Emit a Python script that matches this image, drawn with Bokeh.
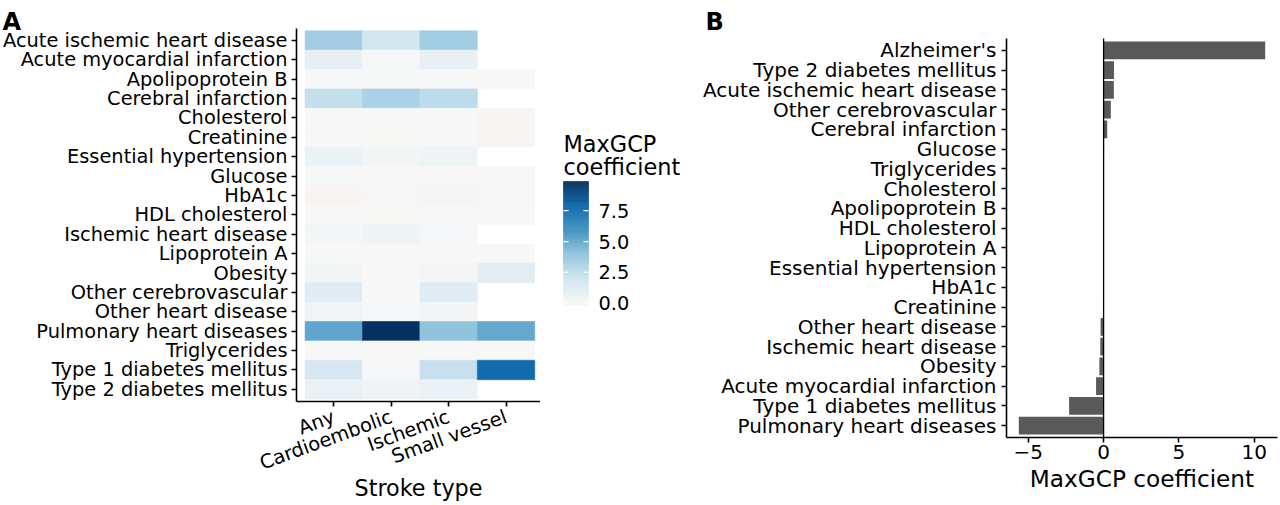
import numpy as np
from bokeh.plotting import figure
from bokeh.models import (Range1d, LinearColorMapper, FixedTicker, Label, LinearAxis,
                          ColumnDataSource, NumeralTickFormatter)
from bokeh.layouts import row
from bokeh.embed import file_html
from bokeh.resources import INLINE

# ---------------- data ----------------
outcomes = ["Acute ischemic heart disease", "Acute myocardial infarction", "Apolipoprotein B",
            "Cerebral infarction", "Cholesterol", "Creatinine", "Essential hypertension",
            "Glucose", "HbA1c", "HDL cholesterol", "Ischemic heart disease", "Lipoprotein A",
            "Obesity", "Other cerebrovascular", "Other heart disease", "Pulmonary heart diseases",
            "Triglycerides", "Type 1 diabetes mellitus", "Type 2 diabetes mellitus"]
stroke_types = ["Any", "Cardioembolic", "Ischemic", "Small vessel"]
coef_any = [3.45, 0.85, 0.05, 2.4, 0.02, 0.02, 0.6, 0.05, -0.19, 0.02, 0.2, 0.03, 0.25, 1.25,
            0.35, 5.2, 0.02, 1.7, 0.7]
coef_cardioembolic = [1.9, 0.15, 0.05, 3.2, 0.02, 0.0, 0.25, 0.02, -0.05, 0.0, 0.5, 0.02, 0.05,
                      0.0, 0.15, 9.87, 0.0, 0.1, 0.4]
coef_ischemic = [3.5, 0.8, 0.05, 2.6, 0.02, 0.02, 0.5, 0.03, -0.12, 0.02, 0.15, 0.02, 0.2, 1.2,
                 0.3, 4.0, 0.02, 2.27, 0.6]
coef_small_vessel = [None, None, 0.0, None, -0.08, -0.08, None, -0.05, -0.05, 0.02, None, -0.02,
                     1.1, None, None, 5.1, 0.02, 7.8, None]
legend_ticks = [0, 2.5, 5, 7.5]

bar_outcomes = ["Alzheimer's", "Type 2 diabetes mellitus", "Acute ischemic heart disease",
                "Other cerebrovascular", "Cerebral infarction", "Glucose", "Triglycerides",
                "Cholesterol", "Apolipoprotein B", "HDL cholesterol", "Lipoprotein A",
                "Essential hypertension", "HbA1c", "Creatinine", "Other heart disease",
                "Ischemic heart disease", "Obesity", "Acute myocardial infarction",
                "Type 1 diabetes mellitus", "Pulmonary heart diseases"]
bar_values = [10.73, 0.69, 0.68, 0.48, 0.24, 0.03, 0.02, 0.01, 0.01, 0.0, -0.01, -0.01, -0.02,
              -0.04, -0.2, -0.22, -0.28, -0.5, -2.29, -5.63]
bar_ticks = [-5, 0, 5, 10]

FONT = "DejaVu Sans"
H = 504  # canvas height of every figure (frames fill the canvas; axes are placed inside)

# ---------------- colour scale ----------------
cols = [coef_any, coef_cardioembolic, coef_ischemic, coef_small_vessel]
xs, ys, vs = [], [], []
nO = len(outcomes)
for j, col in enumerate(cols):
    for i, v in enumerate(col):
        if v is not None:
            xs.append(j + 1); ys.append(nO - i); vs.append(v)
lo, hi = min(vs), max(vs)
M = max(hi, -lo)
pos_stops = [(0.0, "#F7F7F7"), (0.2, "#D1E5F0"), (0.4, "#92C5DE"), (0.6, "#4393C3"),
             (0.8, "#0F69AB"), (1.0, "#053061")]
neg_stops = [(0.0, "#F7F7F7"), (0.2, "#FDDBC7"), (0.4, "#F4A582"), (0.6, "#D6604D"),
             (0.8, "#B2182B"), (1.0, "#67001F")]


def hex2rgb(h):
    return [int(h[i:i + 2], 16) for i in (1, 3, 5)]


def interp(stops, t):
    for (t0, c0), (t1, c1) in zip(stops[:-1], stops[1:]):
        if t <= t1:
            f = (t - t0) / (t1 - t0)
            a, b = hex2rgb(c0), hex2rgb(c1)
            return "#%02x%02x%02x" % tuple(int(round(a[k] + (b[k] - a[k]) * f)) for k in range(3))
    return stops[-1][1]


palette = [interp(pos_stops, v / M) if v >= 0 else interp(neg_stops, -v / M)
           for v in np.linspace(lo, hi, 256)]
mapper = LinearColorMapper(palette=palette, low=lo, high=hi)


def style_axis(ax, fs, title_fs="22.4px"):
    ax.axis_line_color = "black"
    ax.axis_line_width = 1.6
    ax.major_tick_line_color = "black"
    ax.major_tick_line_width = 1.6
    ax.major_tick_out = 5
    ax.major_tick_in = 0
    ax.minor_tick_line_color = None
    ax.major_label_text_font = FONT
    ax.major_label_text_font_size = fs
    ax.major_label_text_color = "black"
    ax.axis_label_text_font = FONT
    ax.axis_label_text_font_size = title_fs
    ax.axis_label_text_font_style = "normal"
    ax.axis_label_text_color = "black"


def vrange(n_lo, n_hi, top_px, bottom_px):
    # band [n_lo, n_hi] drawn between canvas rows top_px..bottom_px of a frame of height H
    ppu = (bottom_px - top_px) / (n_hi - n_lo)
    return Range1d(n_lo - (H - bottom_px) / ppu, n_hi + top_px / ppu)


def hrange(d_lo, d_hi, left_px, right_px, width):
    ppu = (right_px - left_px) / (d_hi - d_lo)
    return Range1d(d_lo - left_px / ppu, d_hi + (width - right_px) / ppu)


def new_fig(xr, yr, w):
    p = figure(x_range=xr, y_range=yr, width=w, height=H, min_border_left=0,
               min_border_right=0, min_border_top=0, min_border_bottom=0,
               x_axis_location=None, y_axis_location=None,
               toolbar_location=None, output_backend="svg")
    p.grid.visible = False
    p.outline_line_color = None
    return p


def tag(p, x, text):
    p.add_layout(Label(x=x, y=H - 21.7, x_units="screen", y_units="screen", text=text,
                       text_font=FONT, text_font_size="24px", text_font_style="bold",
                       text_baseline="alphabetic", text_color="black"))


# ---------------- panel A: heatmap ----------------
A_W = 540
ax_lo, ax_hi = 0.35, len(stroke_types) + 0.6
ay_lo, ay_hi = 0.4, nO + 0.6
pA = new_fig(hrange(ax_lo, ax_hi, 296, 540, A_W), vrange(ay_lo, ay_hi, 28.3, 400.5), A_W)
src = ColumnDataSource(dict(x=xs, y=ys, v=vs))
pA.rect(x="x", y="y", width=1, height=1, source=src,
        fill_color={"field": "v", "transform": mapper},
        line_color={"field": "v", "transform": mapper}, line_width=0.6)
ax_y = LinearAxis(ticker=FixedTicker(ticks=list(range(1, nO + 1))), bounds=(ay_lo, ay_hi),
                  fixed_location=ax_lo,
                  major_label_overrides={nO - i: o for i, o in enumerate(outcomes)})
style_axis(ax_y, "19.4px")
ax_y.major_label_standoff = 4
pA.add_layout(ax_y, "left")
ax_x = LinearAxis(ticker=FixedTicker(ticks=list(range(1, len(stroke_types) + 1))),
                  major_label_overrides={j + 1: s for j, s in enumerate(stroke_types)},
                  bounds=(ax_lo, ax_hi), fixed_location=ay_lo, axis_label="Stroke type")
style_axis(ax_x, "19.4px", "22.3px")
ax_x.major_label_orientation = np.deg2rad(20)
ax_x.major_label_standoff = 10
ax_x.axis_label_standoff = -14
pA.add_layout(ax_x, "below")
tag(pA, 2, "A")

# ---------------- legend ----------------
L_W, BAR_L, BAR_W, BAR_T, BAR_B = 148, 23, 25, 181, 305
pL = new_fig(hrange(0, 1, BAR_L, BAR_L + BAR_W, L_W), vrange(lo, hi, BAR_T, BAR_B), L_W)
edges = np.linspace(lo, hi, 161)
gsrc = ColumnDataSource(dict(b=edges[:-1], t=edges[1:], v=(edges[:-1] + edges[1:]) / 2))
pL.quad(left=0, right=1, bottom="b", top="t", source=gsrc,
        fill_color={"field": "v", "transform": mapper},
        line_color={"field": "v", "transform": mapper}, line_width=0.5)
pL.segment(x0=0, x1=0.2, y0=legend_ticks, y1=legend_ticks, line_color="white", line_width=1.2)
pL.segment(x0=0.8, x1=1, y0=legend_ticks, y1=legend_ticks, line_color="white", line_width=1.2)
ax_l = LinearAxis(ticker=FixedTicker(ticks=legend_ticks), formatter=NumeralTickFormatter(format="0.0"),
                  fixed_location=1)
style_axis(ax_l, "19.4px")
ax_l.axis_line_color = None
ax_l.major_tick_line_color = None
ax_l.major_tick_out = 0
ax_l.major_label_standoff = 10
pL.add_layout(ax_l, "right")
for txt, base in (("MaxGCP", 143.3), ("coefficient", 166)):
    pL.add_layout(Label(x=BAR_L, y=H - base, x_units="screen", y_units="screen", text=txt,
                        text_font=FONT, text_font_size="22.4px", text_baseline="alphabetic",
                        text_color="black"))

# ---------------- panel B: bars ----------------
B_X0 = A_W + L_W            # canvas x where panel B figure starts
B_W = 1279 - B_X0
nB = len(bar_outcomes)
span = max(bar_values) - min(min(bar_values), 0)
bx_lo = min(min(bar_values), 0) - 0.05 * span
bx_hi = max(bar_values) + 0.05 * span
by_lo, by_hi = 0.4, nB + 0.6
pB = new_fig(hrange(bx_lo, bx_hi, 1006 - B_X0, 1277 - B_X0, B_W),
             vrange(by_lo, by_hi, 38, 437), B_W)
bpos = [nB - i for i in range(nB)]
bsrc = ColumnDataSource(dict(y=bpos, v=bar_values))
pB.hbar(y="y", left=0, right="v", height=0.9, source=bsrc, fill_color="#595959", line_color=None)
pB.segment(x0=[0], x1=[0], y0=[by_lo], y1=[by_hi], line_color="black", line_width=1.3)
bx_y = LinearAxis(ticker=FixedTicker(ticks=bpos), bounds=(by_lo, by_hi), fixed_location=bx_lo,
                  major_label_overrides={p: o for p, o in zip(bpos, bar_outcomes)})
style_axis(bx_y, "20px")
bx_y.major_label_standoff = 5
pB.add_layout(bx_y, "left")
bx_x = LinearAxis(ticker=FixedTicker(ticks=bar_ticks), bounds=(bx_lo, bx_hi),
                  fixed_location=by_lo, axis_label="MaxGCP coefficient")
style_axis(bx_x, "20px", "23.2px")
bx_x.major_label_standoff = 2
bx_x.axis_label_standoff = 3
pB.add_layout(bx_x, "below")
tag(pB, 705 - B_X0, "B")

layout = row(pA, pL, pB)
open("out.html", "w").write(file_html(layout, INLINE))
